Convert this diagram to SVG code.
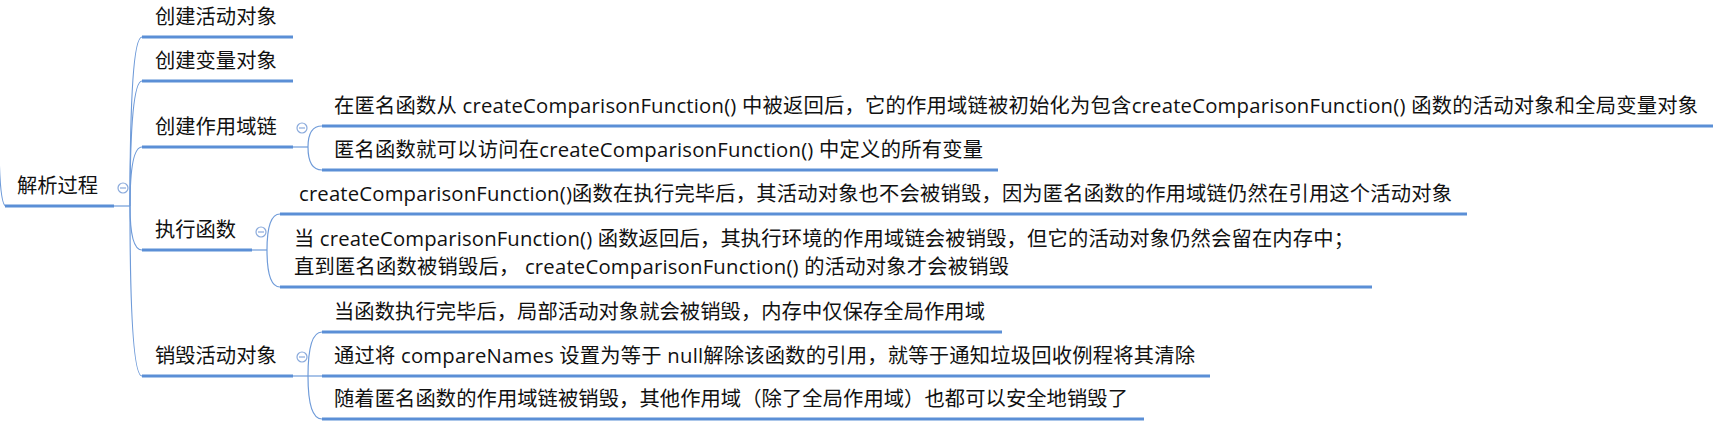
<svg xmlns="http://www.w3.org/2000/svg" width="1714" height="430" viewBox="0 0 1714 430">
<style>
.t{font-family:"Open Sans","Noto Sans CJK SC",sans-serif;font-size:20.3px;fill:#111}
.u{stroke:#5b8fd6;stroke-width:3;fill:none}
.c{stroke:#6f9bd9;stroke-width:1.2;fill:none}
.k circle{fill:#fff;stroke:#8aaadc;stroke-width:1.2}
.k line{stroke:#8aaadc;stroke-width:1.2}
</style>
<rect width="1714" height="430" fill="#fff"/>
<g id="connectors">
<path class="c" d="M-1,150 Q0,206 6,206"/>
<path class="c" d="M114,206 H130"/>
<path class="c" d="M130,206 Q130,37 142,37"/>
<path class="c" d="M130,206 Q130,81 142,81"/>
<path class="c" d="M130,206 Q130,147 142,147"/>
<path class="c" d="M130,206 Q130,250 142,250"/>
<path class="c" d="M130,206 Q130,376 142,376"/>
<path class="c" d="M293,147 H308"/>
<path class="c" d="M308,147 Q308,126 322,126"/>
<path class="c" d="M308,147 Q308,170 322,170"/>
<path class="c" d="M252,250 H267"/>
<path class="c" d="M267,250 Q267,214 280,214"/>
<path class="c" d="M267,250 Q267,287 280,287"/>
<path class="c" d="M293,376 H322"/>
<path class="c" d="M308,376 Q308,332 322,332"/>
<path class="c" d="M308,376 Q308,419 322,419"/>
</g>
<g id="root">
<text class="t" x="17" y="193">解析过程</text>
<path class="u" d="M5,206 H114"/>
<g class="k"><circle cx="123" cy="188" r="5"/><line x1="120" y1="188" x2="126" y2="188"/></g>
</g>
<g id="n-activity">
<text class="t" x="155" y="24">创建活动对象</text>
<path class="u" d="M142,37 H293"/>
</g>
<g id="n-variable">
<text class="t" x="155" y="68">创建变量对象</text>
<path class="u" d="M142,81 H293"/>
</g>
<g id="n-scope">
<text class="t" x="155" y="134">创建作用域链</text>
<path class="u" d="M142,147 H293"/>
<g class="k"><circle cx="302" cy="128" r="5"/><line x1="299" y1="128" x2="305" y2="128"/></g>
</g>
<g id="n-scope-1">
<text class="t" x="334" y="113" textLength="1364" lengthAdjust="spacing">在匿名函数从 createComparisonFunction() 中被返回后，它的作用域链被初始化为包含createComparisonFunction() 函数的活动对象和全局变量对象</text>
<path class="u" d="M322,126 H1713"/>
</g>
<g id="n-scope-2">
<text class="t" x="334" y="157" textLength="649" lengthAdjust="spacing">匿名函数就可以访问在createComparisonFunction() 中定义的所有变量</text>
<path class="u" d="M322,170 H998"/>
</g>
<g id="n-exec">
<text class="t" x="155" y="237">执行函数</text>
<path class="u" d="M142,250 H252"/>
<g class="k"><circle cx="261" cy="232" r="5"/><line x1="258" y1="232" x2="264" y2="232"/></g>
</g>
<g id="n-exec-1">
<text class="t" x="299" y="201" textLength="1153" lengthAdjust="spacing">createComparisonFunction()函数在执行完毕后，其活动对象也不会被销毁，因为匿名函数的作用域链仍然在引用这个活动对象</text>
<path class="u" d="M280,214 H1467"/>
</g>
<g id="n-exec-2">
<text class="t" x="294" y="246" textLength="1060" lengthAdjust="spacing">当 createComparisonFunction() 函数返回后，其执行环境的作用域链会被销毁，但它的活动对象仍然会留在内存中；</text>
<text class="t" x="294" y="274" textLength="715" lengthAdjust="spacing">直到匿名函数被销毁后， createComparisonFunction() 的活动对象才会被销毁</text>
<path class="u" d="M280,287 H1372"/>
</g>
<g id="n-destroy">
<text class="t" x="155" y="363">销毁活动对象</text>
<path class="u" d="M142,376 H293"/>
<g class="k"><circle cx="302" cy="357" r="5"/><line x1="299" y1="357" x2="305" y2="357"/></g>
</g>
<g id="n-destroy-1">
<text class="t" x="334" y="319" textLength="651" lengthAdjust="spacing">当函数执行完毕后，局部活动对象就会被销毁，内存中仅保存全局作用域</text>
<path class="u" d="M322,332 H1002"/>
</g>
<g id="n-destroy-2">
<text class="t" x="334" y="363" textLength="861" lengthAdjust="spacing">通过将 compareNames 设置为等于 null解除该函数的引用，就等于通知垃圾回收例程将其清除</text>
<path class="u" d="M322,376 H1210"/>
</g>
<g id="n-destroy-3">
<text class="t" x="334" y="406" textLength="794" lengthAdjust="spacing">随着匿名函数的作用域链被销毁，其他作用域（除了全局作用域）也都可以安全地销毁了</text>
<path class="u" d="M322,419 H1144"/>
</g>
</svg>
